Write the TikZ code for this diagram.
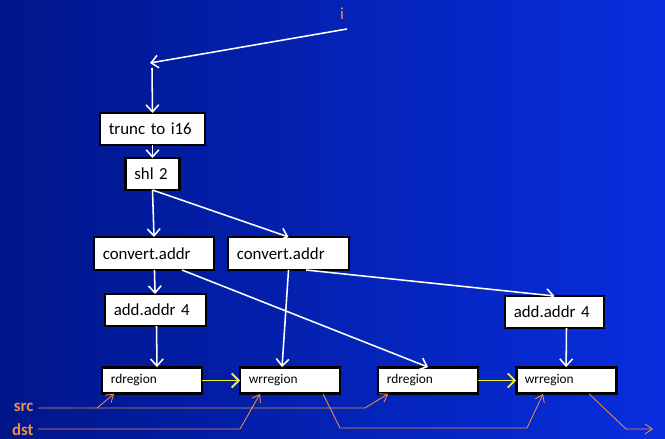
\documentclass[tikz,border=0pt]{standalone}
\usepackage{fontspec}
\setmainfont{Carlito}
\usepackage{tikz}
\usetikzlibrary{arrows.meta,positioning,calc}
\definecolor{bgdark}{RGB}{0,22,138}
\definecolor{bglight}{RGB}{8,46,222}
\definecolor{sigorange}{RGB}{240,140,75}
\definecolor{dataylw}{RGB}{245,240,30}
\tikzstyle{opbox} = [rectangle, draw=black, fill=white, line width=2pt, outer sep=0pt, align=left, inner xsep=0.22cm, inner ysep=0pt, font=\fontsize{12}{14}\selectfont]
\tikzstyle{regbox} = [opbox, text width=2.06cm, minimum height=0.67cm, font=\fontsize{9.5}{11}\selectfont]
\tikzstyle{arrow} = [line width=1.1pt, white, -{Straight Barb[length=5pt,width=9pt]}]
\tikzstyle{dataarrow} = [line width=1.3pt, dataylw, -{Straight Barb[length=5pt,width=10pt]}]
\tikzstyle{sigarrow} = [line width=0.6pt, sigorange, -{Straight Barb[length=5pt,width=7pt]}]
\tikzstyle{siglabel} = [text=sigorange, font=\fontsize{12}{14}\selectfont, inner xsep=3pt, inner ysep=1pt]

\begin{document}
\begin{tikzpicture}[x=0.025cm, y=-0.025cm]
% Background
\shade[left color=bgdark, right color=bglight] (0,0) rectangle (665,439);
\useasboundingbox (0,0) rectangle (665,439);

% Ops
\node[siglabel] (ilbl) at (342,14) {i};
\coordinate (isrc) at (347,29);
\coordinate (ijoin) at (150,63);
\coordinate (idown) at (152,68);
\node[opbox, text width=2.185cm, minimum height=0.8cm] (trunc) at (152.5,129) {trunc to i16};
\node[opbox, text width=0.91cm, minimum height=0.8cm, below=0.325cm of trunc] (shl) {shl 2};
\node[opbox, text width=2.56cm, minimum height=0.825cm] (convL) at (154,253.5) {convert.addr};
\node[opbox, text width=2.585cm, minimum height=0.825cm, right=0.35cm of convL] (convR) {convert.addr};
\node[opbox, text width=2.085cm, minimum height=0.8cm] (addL) at (155.5,310) {add.addr 4};
\node[opbox, text width=2.035cm, minimum height=0.8cm] (addR) at (554.5,312) {add.addr 4};

% Regions
\node[regbox] (rd1) at (152,380.5) {rdregion};
\node[regbox, right=0.95cm of rd1] (wr1) {wrregion};
\node[regbox, right=0.95cm of wr1] (rd2) {rdregion};
\node[regbox, right=0.95cm of rd2] (wr2) {wrregion};

% Inputs
\node[siglabel, font=\fontsize{12}{14}\selectfont\bfseries, anchor=east] (src) at (38,407) {src};
\node[siglabel, font=\fontsize{12}{14}\selectfont\bfseries, anchor=east] (dst) at (38,430) {dst};

% Flow
\draw[arrow] (isrc) -- (ijoin);
\draw[arrow] (idown) -- (trunc.north);
\draw[arrow] (trunc) -- (shl);
\draw[arrow] (shl.south) -- (convL.north);
\draw[arrow] (shl.south) -- (convR.north);
\draw[arrow] (convL) -- (addL);
\draw[arrow] ($(convL.south)+(28,0)$) -- (rd2.north);
\draw[arrow] (convR.south) -- ($(wr1.north)+(-8,0)$);
\draw[arrow] ($(convR.south east)+(-43,0)$) -- (addR.north);
\draw[arrow] ($(addL.south)+(1,0)$) -- ($(rd1.north)+(5,0)$);
\draw[arrow] ($(addR.south)+(12,0)$) -- ($(wr2.north)+(0,0)$);
\draw[dataarrow] (rd1) -- (wr1);
\draw[dataarrow] (rd2) -- (wr2);

% Signals
\coordinate (srctap) at (97,408);
\coordinate (srcknee) at (365,408);
\coordinate (dstknee) at (240,429);
\coordinate (wrbend) at (340,428);
\coordinate (wrknee) at (527,428);
\coordinate (outbend) at (626,429);
\coordinate (outend) at (653,429);
\draw[sigarrow] (src.east |- srctap) -- (srcknee) -- ($(rd2.south west)+(10,0)$);
\draw[sigarrow] (srctap) -- ($(rd1.south west)+(12,0)$);
\draw[sigarrow] (dst.east |- dstknee) -- (dstknee) -- ($(wr1.south west)+(20,0)$);
\draw[sigarrow] ($(wr1.south east)+(-17,0)$) -- (wrbend) -- (wrknee) -- ($(wr2.south west)+(27,0)$);
\draw[sigarrow] ($(wr2.south east)+(-27,0)$) -- (outbend) -- (outend);
\end{tikzpicture}
\end{document}
